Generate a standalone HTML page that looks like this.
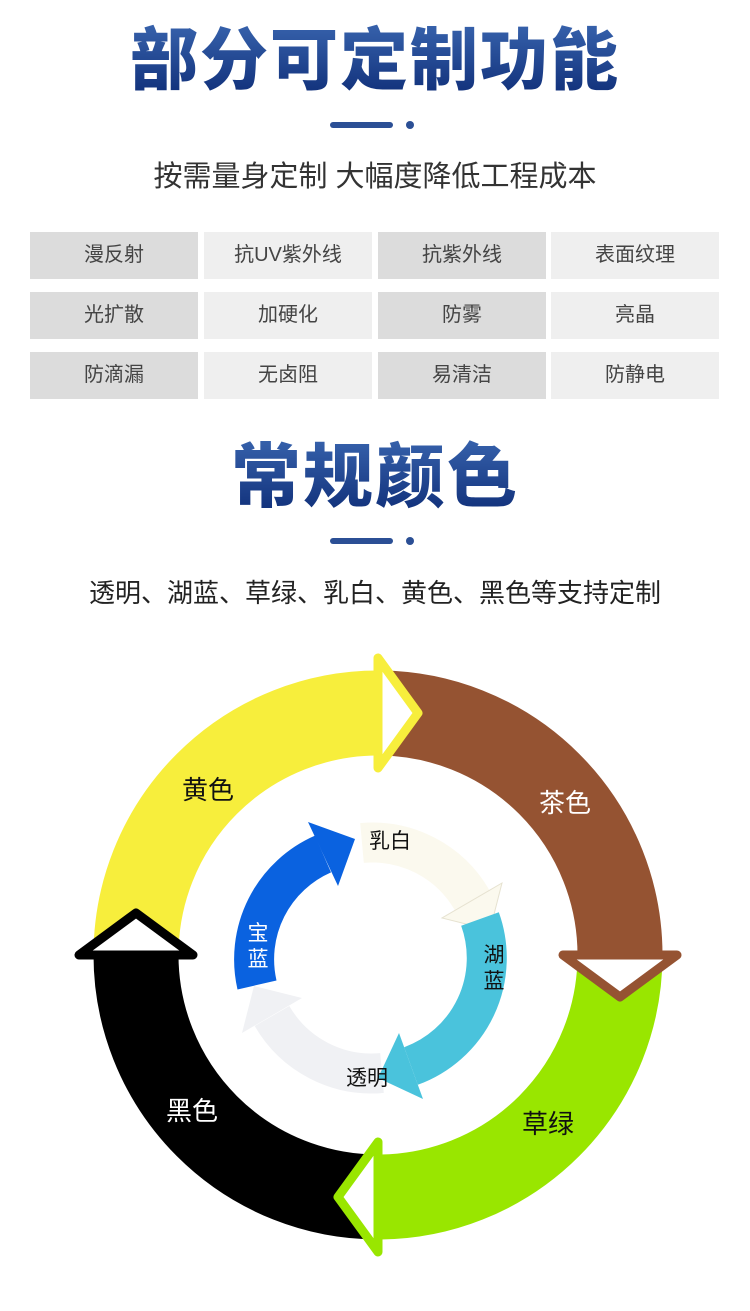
<!DOCTYPE html>
<html><head><meta charset="utf-8">
<style>
body{margin:0;background:#fff;}
.wrap{position:relative;width:750px;height:1311px;overflow:hidden;font-family:"Liberation Sans","Noto Sans CJK SC",sans-serif;}
.t{position:absolute;left:0;width:750px;text-align:center;font-weight:900;color:#1f4690;letter-spacing:2px;
background:linear-gradient(#3a66b0,#0c2a74);-webkit-background-clip:text;background-clip:text;-webkit-text-fill-color:transparent;}
.bar{position:absolute;height:6px;width:63px;border-radius:3px;background:#2b4f95;}
.dot{position:absolute;width:8px;height:8px;border-radius:4px;background:#2b4f95;}
.sub{position:absolute;left:0;width:750px;text-align:center;color:#333;}
.c{position:absolute;width:168px;height:47px;line-height:47px;text-align:center;font-size:20px;color:#444;}
.d{background:#dcdcdc}.l{background:#efefef}
</style></head><body><div class="wrap">
<div class="t" style="top:18px;font-size:68px;line-height:86px;">部分可定制功能</div>
<div class="bar" style="left:330px;top:122px"></div><div class="dot" style="left:406px;top:121px"></div>
<div class="sub" style="top:158px;font-size:29px;line-height:38px;">按需量身定制 大幅度降低工程成本</div>

<div class="c d" style="left:30px;top:232px">漫反射</div>
<div class="c l" style="left:204px;top:232px">抗UV紫外线</div>
<div class="c d" style="left:378px;top:232px">抗紫外线</div>
<div class="c l" style="left:551px;top:232px">表面纹理</div>
<div class="c d" style="left:30px;top:292px">光扩散</div>
<div class="c l" style="left:204px;top:292px">加硬化</div>
<div class="c d" style="left:378px;top:292px">防雾</div>
<div class="c l" style="left:551px;top:292px">亮晶</div>
<div class="c d" style="left:30px;top:352px">防滴漏</div>
<div class="c l" style="left:204px;top:352px">无卤阻</div>
<div class="c d" style="left:378px;top:352px">易清洁</div>
<div class="c l" style="left:551px;top:352px">防静电</div>

<div class="t" style="top:432px;font-size:70px;line-height:90px;">常规颜色</div>
<div class="bar" style="left:330px;top:538px"></div><div class="dot" style="left:406px;top:537px"></div>
<div class="sub" style="top:574px;font-size:26px;line-height:38px;color:#222;">透明、湖蓝、草绿、乳白、黄色、黑色等支持定制</div>

<svg style="position:absolute;left:0;top:0" width="750" height="1311" font-family="Liberation Sans, Noto Sans CJK SC, sans-serif">
<g fill="none" stroke-width="85">
<path d="M136 955 A242 242 0 0 1 378 713" stroke="#f7ee3c"/>
<path d="M378 713 A242 242 0 0 1 620 955" stroke="#955332"/>
<path d="M620 955 A242 242 0 0 1 378 1197" stroke="#99e600"/>
<path d="M378 1197 A242 242 0 0 1 136 955" stroke="#000"/>
</g>
<g fill="#fff" stroke-width="9" stroke-linejoin="round">
<polygon points="378,658 378,768 418,713" stroke="#f7ee3c"/>
<polygon points="563,955 677,955 620,997" stroke="#955332"/>
<polygon points="378,1142 378,1252 338,1197" stroke="#99e600"/>
<polygon points="79,955 193,955 136,913" stroke="#000"/>
</g>
<g fill="none" stroke-width="40">
<path d="M362 843 A115 115 0 0 1 472 900" stroke="#fbf9ee"/>
<path d="M382 1073 A115 115 0 0 1 272 1016" stroke="#f0f1f4"/>
</g>
<polygon points="502,883 442,918 490,930" fill="#fbf9ee" stroke="#e6e2d0" stroke-width="1"/>
<polygon points="242,1033 302,998 254,986" fill="#f0f1f4"/>
<g fill="none" stroke-width="40">
<path d="M257 985 A115 115 0 0 1 323 854" stroke="#0a62e0"/>
<path d="M480 919 A115 115 0 0 1 411 1066" stroke="#4ac3dc"/>
</g>
<polygon points="308,822 338,886 355,839" fill="#0a62e0"/>
<polygon points="423,1099 399,1033 378,1078" fill="#4ac3dc"/>
<g font-size="26" text-anchor="middle">
<text x="208" y="799" fill="#111">黄色</text>
<text x="565" y="812" fill="#fff">茶色</text>
<text x="548" y="1133" fill="#111">草绿</text>
<text x="192" y="1120" fill="#fff">黑色</text>
</g>
<g font-size="21" text-anchor="middle">
<text x="390" y="848" fill="#111">乳白</text>
<text x="258" y="940" fill="#fff">宝</text>
<text x="258" y="966" fill="#fff">蓝</text>
<text x="494" y="962" fill="#111">湖</text>
<text x="494" y="988" fill="#111">蓝</text>
<text x="367" y="1085" fill="#111">透明</text>
</g>
</svg>
</div></body></html>
